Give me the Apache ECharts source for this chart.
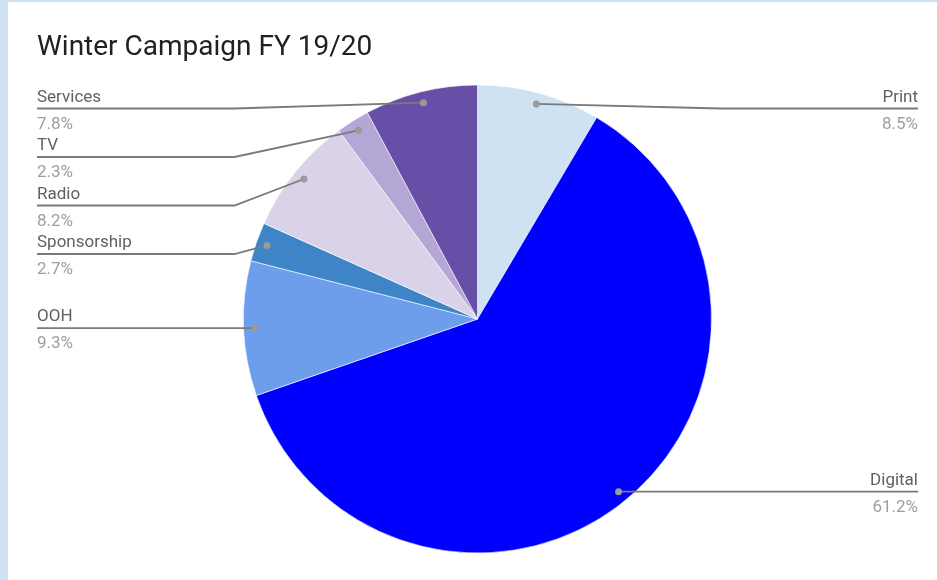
<!DOCTYPE html>
<html>
<head>
<meta charset="utf-8">
<script src="https://cdn.jsdelivr.net/npm/echarts@6/dist/echarts.min.js"></script>
<style>
  html, body { margin: 0; padding: 0; background: #ffffff; }
  #wrap { position: relative; width: 937px; height: 580px; overflow: hidden; }
  #chart { position: absolute; left: 0; top: 0; width: 937px; height: 580px; }
  .edgeL { position: absolute; left: 0; top: 0; width: 8px; height: 580px; background: #cfe2f3; pointer-events: none; }
  .edgeT { position: absolute; left: 0; top: 0; width: 937px; height: 2px; background: #cfe2f3; pointer-events: none; }
</style>
</head>
<body>
<div id="wrap">
  <div id="chart"></div>
  <div class="edgeL"></div>
  <div class="edgeT"></div>
</div>
<script>
// ---- data ----
const titleText = 'Winter Campaign FY 19/20';
const categories = ['Print', 'Digital', 'OOH', 'Sponsorship', 'Radio', 'TV', 'Services'];
const shares = [8.5, 61.2, 9.3, 2.7, 8.2, 2.3, 7.8];
const sliceColors = ['#cfe2f3', '#0000ff', '#6d9eeb', '#3d85c6', '#d9d2e9', '#b4a7d6', '#674ea7'];

// ---- layout constants ----
const VIEW_LEFT = 18, VIEW_RIGHT = 0, VIEW_TOP = 84, VIEW_BOTTOM = 26;
const R = 234;
const DOT_INSET = 11;
const ELBOW = 243;
const EDGE_LEFT = 37, EDGE_RIGHT = 19;
const NAME_LH = 24, PCT_LH = 30;
const LABEL_GAP = 48.5;
const LINE_TOP = 108.5;
const FONT = 'Roboto, "Noto Sans", Arial, sans-serif';

const chart = echarts.init(document.getElementById('chart'), null, { renderer: 'canvas' });

const pieData = categories.map((c, i) => ({
  name: c,
  value: shares[i],
  itemStyle: { color: sliceColors[i] }
}));

// Label plan built from the library's own slice layout
function labelPlan() {
  const items = [];
  let layouts = null;
  try {
    const data = chart.getModel().getSeriesByIndex(0).getData();
    layouts = [];
    for (let i = 0; i < data.count(); i++) layouts.push(data.getItemLayout(i));
  } catch (e) { layouts = null; }
  if (!layouts || !layouts[0]) {
    const W = chart.getWidth(), H = chart.getHeight();
    const cx = VIEW_LEFT + (W - VIEW_LEFT - VIEW_RIGHT) / 2;
    const cy = VIEW_TOP + (H - VIEW_TOP - VIEW_BOTTOM) / 2;
    const total = shares.reduce((a, b) => a + b, 0);
    let acc = -Math.PI / 2;
    layouts = shares.map(v => {
      const s = acc; acc += v / total * Math.PI * 2;
      return { cx, cy, r: R, startAngle: s, endAngle: acc };
    });
  }
  layouts.forEach((L, i) => {
    const mid = (L.startAngle + L.endAngle) / 2;
    const ux = Math.cos(mid), uy = Math.sin(mid);
    items.push({
      i, cx: L.cx, cy: L.cy,
      ax: L.cx + ux * (L.r - DOT_INSET),
      ay: L.cy + uy * (L.r - DOT_INSET),
      left: ux < 0
    });
  });
  [true, false].forEach(side => {
    const list = items.filter(it => it.left === side).sort((a, b) => a.ay - b.ay);
    let prev = -Infinity;
    list.forEach(it => {
      it.lineY = Math.max(it.ay, prev + LABEL_GAP, LINE_TOP);
      prev = it.lineY;
    });
  });
  return items;
}

const option = {
  backgroundColor: '#ffffff',
  animation: false,
  title: {
    text: titleText,
    left: 32,
    top: 29,
    textStyle: { fontFamily: FONT, fontSize: 28, fontWeight: 'normal', color: '#212121' }
  },
  series: [
    {
      // slices + text labels
      type: 'pie',
      silent: true,
      z: 2,
      left: VIEW_LEFT, right: VIEW_RIGHT, top: VIEW_TOP, bottom: VIEW_BOTTOM,
      center: ['50%', '50%'],
      radius: [0, R],
      startAngle: 90,
      clockwise: true,
      avoidLabelOverlap: false,
      data: pieData,
      itemStyle: { borderColor: '#ffffff', borderWidth: 0.6 },
      label: {
        show: true,
        position: 'outside',
        formatter: function (p) {
          return '{n|' + p.name + '}\n{p|' + p.value.toFixed(1) + '%}';
        },
        rich: {
          n: { fontFamily: FONT, fontSize: 17, color: '#616161', lineHeight: NAME_LH },
          p: { fontFamily: FONT, fontSize: 17, color: '#9e9e9e', lineHeight: PCT_LH }
        }
      },
      labelLine: { show: false },
      labelLayout: function (p) {
        const it = labelPlan()[p.dataIndex];
        const W = chart.getWidth();
        return {
          x: it.left ? EDGE_LEFT : W - EDGE_RIGHT,
          y: it.lineY - NAME_LH + 1,
          align: it.left ? 'left' : 'right',
          verticalAlign: 'top'
        };
      },
      emphasis: { disabled: true }
    },
    {
      // transparent ring: leader dots and leader lines drawn above the slices
      type: 'pie',
      silent: true,
      z: 3,
      left: VIEW_LEFT, right: VIEW_RIGHT, top: VIEW_TOP, bottom: VIEW_BOTTOM,
      center: ['50%', '50%'],
      radius: [R - 2 * DOT_INSET, R],
      startAngle: 90,
      clockwise: true,
      avoidLabelOverlap: false,
      data: categories.map((c, i) => ({ name: c, value: shares[i] })),
      itemStyle: { color: 'rgba(0,0,0,0)', borderWidth: 0 },
      label: {
        show: true,
        position: 'outside',
        formatter: '{d| }',
        rich: { d: { width: 7, height: 7, borderRadius: 3.5, backgroundColor: '#9a9a9a', fontSize: 1, lineHeight: 7 } }
      },
      labelLine: {
        show: true,
        length: 10,
        length2: 10,
        smooth: false,
        lineStyle: { color: '#7a7a7a', width: 1.8 }
      },
      labelLayout: function (p) {
        const it = labelPlan()[p.dataIndex];
        const W = chart.getWidth();
        const edgeX = it.left ? EDGE_LEFT : W - EDGE_RIGHT;
        const ex = it.left ? it.cx - ELBOW : it.cx + ELBOW;
        return {
          x: it.ax, y: it.ay, align: 'center', verticalAlign: 'middle',
          labelLinePoints: [[it.ax, it.ay], [ex, it.lineY], [edgeX, it.lineY]]
        };
      },
      emphasis: { disabled: true }
    }
  ]
};

chart.setOption(option);
</script>
</body>
</html>
